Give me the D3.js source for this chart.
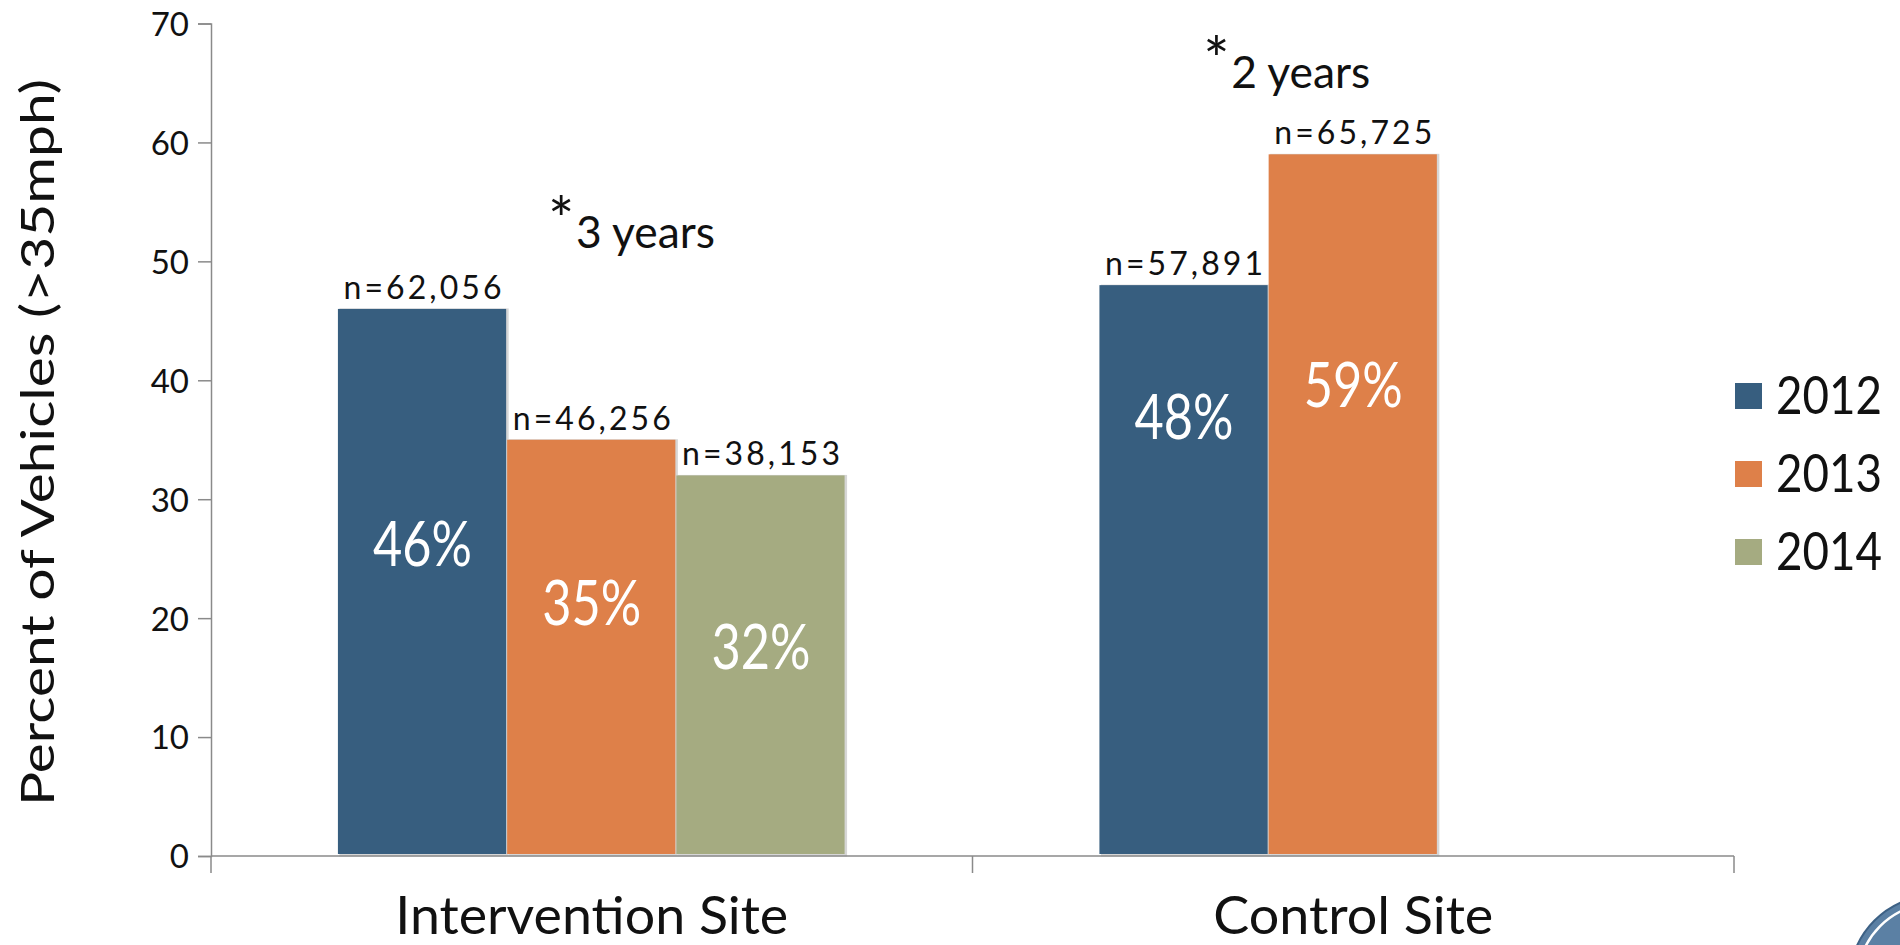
<!DOCTYPE html>
<html>
<head>
<meta charset="utf-8">
<script src="https://cdn.jsdelivr.net/npm/d3@7"></script>
<style>
  html, body { margin: 0; padding: 0; background: #ffffff; }
  svg { display: block; font-family: Lato, "Open Sans", sans-serif; }
</style>
</head>
<body>
<svg id="chart" width="1900" height="945"></svg>
<script>
// Sites and survey years
const categories = ["Intervention Site", "Control Site"];
const years = ["2012", "2013", "2014"];

// Percent of vehicles over 35 mph, per site, per year (null = not surveyed)
const pct2012 = [46, 48];
const pct2013 = [35, 59];
const pct2014 = [32, null];

// Number of vehicles counted
const count2012 = [62056, 57891];
const count2013 = [46256, 65725];
const count2014 = [38153, null];

// Significance notes above each site
const noteText = ["3 years", "2 years"];

// Axis ticks
const yTicks = [0, 10, 20, 30, 40, 50, 60, 70];

const seriesPct = [pct2012, pct2013, pct2014];
const seriesCount = [count2012, count2013, count2014];
const colors = { "2012": "#375e7f", "2013": "#de8049", "2014": "#a5ab81" };

// Placement of the in-bar percent labels and notes (value units / band fractions)
const pctLabelAt = [[26.2, 36.9], [21.3, 39.6], [17.6, null]];
const noteAt = [{ fx: 0.4425, v: 51.1 }, { fx: 0.303, v: 64.6 }];

const svg = d3.select("#chart");

const plot = { left: 211, right: 1734, top: 23.5, bottom: 856 };

const x = d3.scaleBand().domain(categories).range([plot.left, plot.right]).paddingInner(0).paddingOuter(0);
const xYear = d3.scaleBand().domain(years).range([0, x.bandwidth()]).paddingInner(0).paddingOuter(0.75);
const y = d3.scaleLinear().domain([0, 70]).range([plot.bottom, plot.top]);

// Stretch or squeeze a text element to an exact width
function fit(sel, w, mode) {
  sel.attr("textLength", w).attr("lengthAdjust", mode || "spacingAndGlyphs");
  return sel;
}

// Flattened bar records
const bars = [];
years.forEach((yr, si) => {
  categories.forEach((cat, ci) => {
    const v = seriesPct[si][ci];
    if (v == null) return;
    bars.push({ year: yr, cat, value: v, count: seriesCount[si][ci], labelAt: pctLabelAt[si][ci] });
  });
});

// Y axis
const yAxis = svg.append("g")
  .attr("transform", `translate(${plot.left},0)`)
  .call(d3.axisLeft(y).tickValues(yTicks).tickSize(13).tickPadding(9));
yAxis.select(".domain").attr("stroke", "#8a8a8a").attr("stroke-width", 1.5);
yAxis.selectAll(".tick line").attr("stroke", "#8a8a8a").attr("stroke-width", 1.5);
yAxis.selectAll(".tick text")
  .attr("fill", "#111")
  .style("font-size", "33px")
  .style("font-family", "Lato, sans-serif")
  .attr("dy", "0.36em");

// Bar shadows and bars
const barG = svg.append("g");
barG.selectAll("rect.shadow")
  .data(bars)
  .join("rect")
  .attr("class", "shadow")
  .attr("x", d => x(d.cat) + xYear(d.year) + 1.5)
  .attr("y", d => y(d.value) - 0.5)
  .attr("width", xYear.bandwidth())
  .attr("height", d => y(0) - y(d.value) + 1)
  .attr("fill", "#d6d6d6");
barG.selectAll("rect.bar")
  .data(bars)
  .join("rect")
  .attr("class", "bar")
  .attr("x", d => x(d.cat) + xYear(d.year))
  .attr("y", d => y(d.value))
  .attr("width", xYear.bandwidth() - 1)
  .attr("height", d => y(0) - y(d.value) - 2)
  .attr("fill", d => colors[d.year]);

// X axis: baseline and category separators
const xAxis = svg.append("g").attr("transform", `translate(0,${plot.bottom})`);
xAxis.append("line")
  .attr("x1", plot.left).attr("x2", plot.right)
  .attr("stroke", "#8a8a8a").attr("stroke-width", 1.5);
const bounds = categories.map(c => x(c)).concat([x(categories[categories.length - 1]) + x.bandwidth()]);
xAxis.selectAll("line.sep")
  .data(bounds)
  .join("line")
  .attr("class", "sep")
  .attr("x1", d => d).attr("x2", d => d)
  .attr("y1", 0).attr("y2", 17)
  .attr("stroke", "#8a8a8a").attr("stroke-width", 1.5);

// Category labels
const catWidths = { "Intervention Site": 393, "Control Site": 280 };
svg.append("g").selectAll("text")
  .data(categories)
  .join("text")
  .attr("x", d => x(d) + x.bandwidth() / 2)
  .attr("y", 934)
  .attr("text-anchor", "middle")
  .attr("fill", "#111")
  .style("font-size", "52px")
  .text(d => d)
  .each(function (d) { fit(d3.select(this), catWidths[d]); });

// Y axis title
fit(svg.append("text")
  .attr("transform", `translate(54,${(79 + 806) / 2}) rotate(-90)`)
  .attr("text-anchor", "middle")
  .attr("fill", "#111")
  .style("font-size", "46px")
  .text("Percent of Vehicles (>35mph)"), 727);

// Count labels above bars
svg.append("g").selectAll("text")
  .data(bars)
  .join("text")
  .attr("x", d => x(d.cat) + xYear(d.year) + xYear.bandwidth() / 2)
  .attr("y", d => y(d.value) - 10)
  .attr("text-anchor", "middle")
  .attr("fill", "#111")
  .style("font-size", "32px")
  .text(d => "n=" + d3.format(",")(d.count))
  .each(function () { fit(d3.select(this), 158, "spacing"); });

// Percent labels inside bars
svg.append("g").selectAll("text")
  .data(bars)
  .join("text")
  .attr("x", d => x(d.cat) + xYear(d.year) + xYear.bandwidth() / 2)
  .attr("y", d => y(d.labelAt))
  .attr("dy", "0.36em")
  .attr("text-anchor", "middle")
  .attr("fill", "#ffffff")
  .style("font-size", "61px")
  .text(d => d.value + "%")
  .each(function () { fit(d3.select(this), 99); });

// Significance notes
const notes = svg.append("g").selectAll("g")
  .data(categories)
  .join("g")
  .attr("transform", (d, i) => `translate(${x(d) + noteAt[i].fx * x.bandwidth()},${y(noteAt[i].v)})`);
notes.append("text")
  .attr("x", 0).attr("y", -6)
  .attr("fill", "#111")
  .style("font-size", "62px")
  .text("*");
notes.append("text")
  .attr("x", 28).attr("y", 0)
  .attr("fill", "#111")
  .style("font-size", "44px")
  .text((d, i) => noteText[i])
  .each(function () { fit(d3.select(this), 139); });

// Legend
const legend = svg.append("g").selectAll("g")
  .data(years)
  .join("g")
  .attr("transform", (d, i) => `translate(1735,${383 + i * 78})`);
legend.append("rect")
  .attr("width", 27).attr("height", 26)
  .attr("fill", d => colors[d]);
legend.append("text")
  .attr("x", 41).attr("y", 31)
  .attr("fill", "#111")
  .style("font-size", "53px")
  .text(d => d)
  .each(function () { fit(d3.select(this), 106); });

// Corner badge
const badge = svg.append("g");
badge.append("circle").attr("cx", 1936).attr("cy", 982).attr("r", 87)
  .attr("fill", "#5b80a4").attr("stroke", "#3d6185").attr("stroke-width", 2);
badge.append("circle").attr("cx", 1936).attr("cy", 982).attr("r", 79)
  .attr("fill", "none").attr("stroke", "#ffffff").attr("stroke-width", 2.5);
</script>
</body>
</html>
